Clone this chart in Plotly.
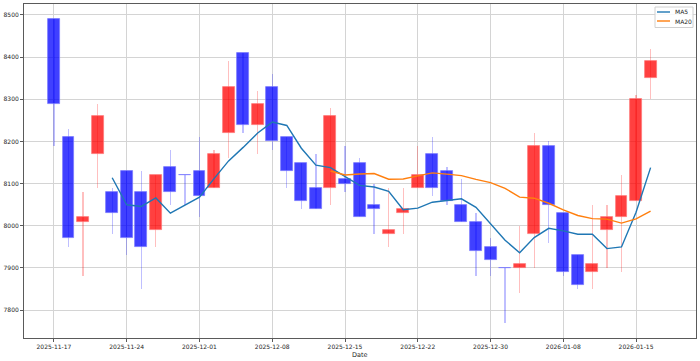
import plotly.graph_objects as go
import pandas as pd

dates = ["2025-11-17", "2025-11-18", "2025-11-19", "2025-11-20", "2025-11-21",
         "2025-11-24", "2025-11-25", "2025-11-26", "2025-11-27", "2025-11-28",
         "2025-12-01", "2025-12-02", "2025-12-03", "2025-12-04", "2025-12-05",
         "2025-12-08", "2025-12-09", "2025-12-10", "2025-12-11", "2025-12-12",
         "2025-12-15", "2025-12-16", "2025-12-17", "2025-12-18", "2025-12-19",
         "2025-12-22", "2025-12-23", "2025-12-24", "2025-12-26", "2025-12-29",
         "2025-12-30", "2026-01-02", "2026-01-05", "2026-01-06", "2026-01-07",
         "2026-01-08", "2026-01-09", "2026-01-12", "2026-01-13", "2026-01-14",
         "2026-01-15", "2026-01-16"]
opens = [8490, 8210, 8010, 8170, 8080, 8130, 8080, 7990, 8140, 8120,
         8130, 8090, 8220, 8410, 8240, 8330, 8210, 8150, 8090, 8090,
         8110, 8150, 8050, 7980, 8030, 8090, 8170, 8130, 8050, 8010,
         7950, 7900, 7900, 7980, 8190, 8030, 7930, 7890, 7990, 8020,
         8060, 8350]
highs = [8490, 8230, 8080, 8290, 8090, 8130, 8130, 8120, 8180, 8120,
         8210, 8180, 8390, 8410, 8320, 8360, 8210, 8150, 8170, 8280,
         8190, 8160, 8100, 8090, 8090, 8190, 8210, 8140, 8110, 8030,
         7970, 7900, 8000, 8220, 8200, 8030, 7930, 8050, 8050, 8120,
         8310, 8420]
lows = [8190, 7950, 7880, 8090, 7980, 7930, 7850, 7950, 8050, 8050,
        8020, 8090, 8160, 8220, 8170, 8180, 8090, 8040, 8040, 8050,
        8080, 8020, 7980, 7950, 7980, 8090, 8070, 8050, 8010, 7880,
        7880, 7770, 7840, 7900, 7960, 7880, 7850, 7850, 7900, 7890,
        8060, 8300]
closes = [8290, 7970, 8020, 8260, 8030, 7970, 7950, 8120, 8080, 8120,
          8070, 8170, 8330, 8240, 8290, 8200, 8130, 8060, 8040, 8260,
          8100, 8020, 8040, 7990, 8040, 8120, 8090, 8060, 8010, 7940,
          7920, 7900, 7910, 8190, 8050, 7890, 7860, 7910, 8020, 8070,
          8300, 8390]
yticks = [7800, 7900, 8000, 8100, 8200, 8300, 8400, 8500]
tick_every = 5
ma_names = ["MA5", "MA20"]
ma_windows = [5, 20]
ma_colors = ["#1f77b4", "#ff7f0e"]

FONT = "DejaVu Sans"
TXT = "#262626"
W, H = 700, 361
ML, MR, MT, MB = 24, 4, 4, 23
PW, PH = W - ML - MR, H - MT - MB


def px_x(px):
    return (px - ML) / PW


def px_y(py):
    return (H - MB - py) / PH


idx = list(range(len(dates)))
up = [c > o for o, c in zip(opens, closes)]

body_fill = ["rgba(255,0,0,0.75)" if u else "rgba(0,0,255,0.75)" for u in up]
body_edge = ["rgba(255,120,120,0.9)" if u else "rgba(120,120,255,0.9)" for u in up]
wick_col = ["rgba(255,0,0,0.25)" if u else "rgba(0,0,255,0.25)" for u in up]

fig = go.Figure()
# wicks
fig.add_trace(go.Bar(
    x=idx, y=[h - l for h, l in zip(highs, lows)], base=lows, width=0.09,
    marker=dict(color=wick_col, line=dict(width=0)), showlegend=False, hoverinfo="skip"))
# bodies
fig.add_trace(go.Bar(
    x=idx, y=[abs(c - o) for o, c in zip(opens, closes)],
    base=[min(o, c) for o, c in zip(opens, closes)], width=0.82,
    marker=dict(color=body_fill, line=dict(width=0.8, color=body_edge)),
    showlegend=False))

s = pd.Series(closes, dtype=float)
for name, win, col in zip(ma_names, ma_windows, ma_colors):
    fig.add_trace(go.Scatter(x=idx, y=s.rolling(win).mean(), mode="lines", name=name,
                             showlegend=False, line=dict(color=col, width=1.4)))

# compact legend (matplotlib-like)
shapes = [dict(type="rect", xref="paper", yref="paper",
               x0=px_x(655), x1=px_x(693), y0=px_y(27.5), y1=px_y(7),
               line=dict(color="#d0d0d0", width=1), fillcolor="rgba(255,255,255,0.85)", layer="above")]
annotations = []
for k, (name, col) in enumerate(zip(ma_names, ma_colors)):
    yy = 12 + 9 * k
    shapes.append(dict(type="line", xref="paper", yref="paper",
                       x0=px_x(657), x1=px_x(670), y0=px_y(yy), y1=px_y(yy),
                       line=dict(color=col, width=1.4), layer="above"))
    annotations.append(dict(xref="paper", yref="paper", x=px_x(673), y=px_y(yy),
                            text=name, showarrow=False, xanchor="left", yanchor="middle",
                            font=dict(size=6, family=FONT, color=TXT)))
annotations.append(dict(xref="paper", yref="paper", x=0.5, y=px_y(355),
                        text="Date", showarrow=False, xanchor="center", yanchor="middle",
                        font=dict(size=6.5, family=FONT, color=TXT)))

fig.update_layout(
    width=W, height=H,
    margin=dict(l=ML, r=MR, t=MT, b=MB, autoexpand=False),
    paper_bgcolor="white", plot_bgcolor="white",
    barmode="overlay", bargap=0, showlegend=False,
    font=dict(family=FONT, size=6, color=TXT),
    shapes=shapes, annotations=annotations,
)
fig.update_xaxes(
    range=[-2.06, 44.12], tickmode="array",
    tickvals=idx[::tick_every], ticktext=dates[::tick_every],
    showgrid=True, gridcolor="#d4d4d4", gridwidth=1,
    showline=True, linecolor="#5a5a5a", linewidth=1, mirror=True,
    ticks="outside", ticklen=3, tickcolor="#5a5a5a", zeroline=False,
    automargin=False, tickfont=dict(size=6, family=FONT, color=TXT))
fig.update_yaxes(
    range=[7734, 8526], tickmode="array", tickvals=yticks,
    showgrid=True, gridcolor="#d4d4d4", gridwidth=1,
    showline=True, linecolor="#5a5a5a", linewidth=1, mirror=True,
    ticks="outside", ticklen=3, tickcolor="#5a5a5a", zeroline=False,
    automargin=False, tickfont=dict(size=6, family=FONT, color=TXT))

fig.write_html("out.html", config={"displayModeBar": False},
               post_script="document.body.style.margin='0';")
